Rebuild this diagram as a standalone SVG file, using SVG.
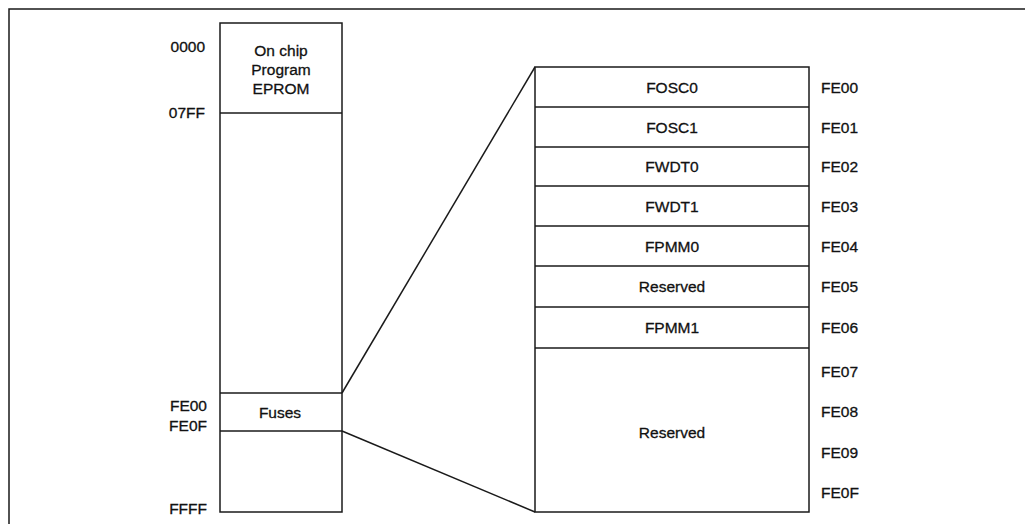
<svg xmlns="http://www.w3.org/2000/svg" width="1025" height="524" viewBox="0 0 1025 524">
<style>
.ln{stroke:#1a1a1a;stroke-width:1.5;fill:none}
.bx{stroke:#1a1a1a;stroke-width:1.5;fill:#fff}
.t{font-family:"Liberation Sans",Arial,sans-serif;font-size:15.5px;fill:#111;stroke:#111;stroke-width:0.3}
.c{text-anchor:middle}
.r{text-anchor:end}
</style>
<rect width="1025" height="524" fill="#fff"/>
<g id="frame"><path class="ln" d="M9,524 V9 H1025" stroke-width="2"/></g>
<g id="memory-map">
<rect class="bx" x="220" y="23" width="122" height="489"/>
<line class="ln" x1="220" y1="113" x2="342" y2="113"/>
<line class="ln" x1="220" y1="393" x2="342" y2="393"/>
<line class="ln" x1="220" y1="431" x2="342" y2="431"/>
<text class="t c" x="281" y="56">On chip</text>
<text class="t c" x="281" y="75">Program</text>
<text class="t c" x="281" y="94">EPROM</text>
<text class="t c" x="280" y="418">Fuses</text>
<text class="t r" x="205" y="52">0000</text>
<text class="t r" x="205" y="118">07FF</text>
<text class="t r" x="207" y="411">FE00</text>
<text class="t r" x="207" y="431">FE0F</text>
<text class="t r" x="207" y="514">FFFF</text>
</g>
<g id="connectors">
<line class="ln" x1="342" y1="393" x2="535" y2="67"/>
<line class="ln" x1="342" y1="431" x2="535" y2="512"/>
</g>
<g id="fuse-map">
<rect class="bx" x="535" y="67" width="274" height="445"/>
<line class="ln" x1="535" y1="107" x2="809" y2="107"/>
<line class="ln" x1="535" y1="147" x2="809" y2="147"/>
<line class="ln" x1="535" y1="186" x2="809" y2="186"/>
<line class="ln" x1="535" y1="226" x2="809" y2="226"/>
<line class="ln" x1="535" y1="266" x2="809" y2="266"/>
<line class="ln" x1="535" y1="307" x2="809" y2="307"/>
<line class="ln" x1="535" y1="348" x2="809" y2="348"/>
<text class="t c" x="672" y="93">FOSC0</text>
<text class="t c" x="672" y="133">FOSC1</text>
<text class="t c" x="672" y="172">FWDT0</text>
<text class="t c" x="672" y="212">FWDT1</text>
<text class="t c" x="672" y="252">FPMM0</text>
<text class="t c" x="672" y="292">Reserved</text>
<text class="t c" x="672" y="333">FPMM1</text>
<text class="t c" x="672" y="438">Reserved</text>
<text class="t" x="821" y="93">FE00</text>
<text class="t" x="821" y="133">FE01</text>
<text class="t" x="821" y="172">FE02</text>
<text class="t" x="821" y="212">FE03</text>
<text class="t" x="821" y="252">FE04</text>
<text class="t" x="821" y="292">FE05</text>
<text class="t" x="821" y="333">FE06</text>
<text class="t" x="821" y="377">FE07</text>
<text class="t" x="821" y="417">FE08</text>
<text class="t" x="821" y="458">FE09</text>
<text class="t" x="821" y="498">FE0F</text>
</g>
</svg>
